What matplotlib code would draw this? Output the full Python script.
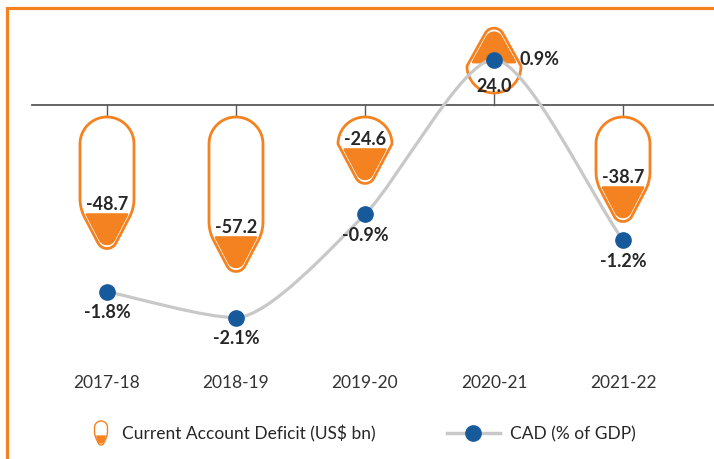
import numpy as np
import matplotlib
matplotlib.use('Agg')
import matplotlib.pyplot as plt
from matplotlib.path import Path
from matplotlib.patches import PathPatch, Rectangle, Polygon
from matplotlib.transforms import IdentityTransform
from matplotlib.lines import Line2D

plt.rcParams['font.family'] = ['Lato', 'DejaVu Sans']

# ---------------- data ----------------
categories = ['2017-18', '2018-19', '2019-20', '2020-21', '2021-22']
cad_bn = [-48.7, -57.2, -24.6, 24.0, -38.7]          # Current Account Deficit (US$ bn)
cad_pct = [-1.8, -2.1, -0.9, 0.9, -1.2]              # CAD (% of GDP)
bar_labels = ['-48.7', '-57.2', '-24.6', '24.0', '-38.7']
pct_labels = ['-1.8%', '-2.1%', '-0.9%', '0.9%', '-1.2%']
legend_labels = ['Current Account Deficit (US$ bn)', 'CAD (% of GDP)']

# ---------------- style ----------------
ORANGE = '#F58220'
BLUE = '#175A9C'
GREY_LINE = '#C8C8C8'
AXIS = '#595959'
TEXT = '#262626'

FW, FH = 714, 460
fig = plt.figure(figsize=(FW / 100, FH / 100), dpi=100)
fig.patch.set_facecolor('white')
ax = fig.add_axes([0, 0, 1, 1])
ax.set_xlim(-107 / 129, (FW - 107) / 129)
ax.set_ylim(-354 / 2.7, 106 / 2.7)
ax.axis('off')
ax2 = ax.twinx()
ax2.set_ylim((138 - 460) / 86, 138 / 86)
ax2.axis('off')

IDT = IdentityTransform()


def drop_side(R, ds, Hd, rt, c=10, n=30):
    """Right half outline of the drop shape: (u, d) with d from 0 (round end) to Hd (tip)."""
    th = np.linspace(np.pi / 2, 0, n)
    u1 = R * np.cos(th)
    d1 = R - R * np.sin(th)
    cx, cd = 0.0, Hd - rt
    vx, vd = R - cx, ds - cd
    L = np.hypot(vx, vd)
    alpha = np.arctan2(vd, vx)
    beta = alpha + np.arccos(min(rt / L, 1.0))
    tx, td = cx + rt * np.cos(beta), cd + rt * np.sin(beta)
    c = min(c, ds - R if ds > R else 0.0, 0.45 * np.hypot(tx - R, td - ds))
    dirx, dird = (tx - R), (td - ds)
    nrm = np.hypot(dirx, dird)
    ax_, ad_ = R + dirx / nrm * c, ds + dird / nrm * c
    t = np.linspace(0, 1, n)
    qx = (1 - t) ** 2 * R + 2 * (1 - t) * t * R + t ** 2 * ax_
    qd = (1 - t) ** 2 * (ds - c) + 2 * (1 - t) * t * ds + t ** 2 * ad_
    ph = np.linspace(beta, np.pi / 2, n)
    arx = cx + rt * np.cos(ph)
    ard = cd + rt * np.sin(ph)
    u = np.concatenate([u1, [R], qx, [tx], arx])
    d = np.concatenate([d1, [R], qd, [td], ard])
    return u, d


def add(target, artist):
    if target is fig:
        fig.add_artist(artist)
    else:
        target.add_patch(artist)


def draw_drop(target, xc, y0, direction, length, width, taper, rt, inset, fill_len, lw, z=2):
    R = width / 2.0
    T = min(taper, length - R)
    ds = length - T
    u, d = drop_side(R, ds, length, rt)
    uu = np.concatenate([u, -u[::-1]])
    dd = np.concatenate([d, d[::-1]])
    xy = np.column_stack([xc + uu, y0 + direction * dd])
    add(target, Polygon(xy, closed=True, facecolor='white', edgecolor=ORANGE,
                        linewidth=lw, joinstyle='round', transform=IDT, zorder=z))
    Ri = R - inset
    Hi = length - inset
    ui, di = drop_side(Ri, ds + 0.3 * inset, Hi, max(rt - 0.5 * inset, 3), c=6)
    dcut = length - fill_len
    k = np.argmax(di >= Ri)
    ucut = np.interp(dcut, di[k:], ui[k:])
    mask = di > dcut
    ur = np.concatenate([[ucut], ui[mask]])
    dr = np.concatenate([[dcut], di[mask]])
    uf = np.concatenate([ur, -ur[::-1]])
    df = np.concatenate([dr, dr[::-1]])
    xyf = np.column_stack([xc + uf, y0 + direction * df])
    add(target, Polygon(xyf, closed=True, facecolor=ORANGE, edgecolor=ORANGE,
                        linewidth=lw * 0.9, joinstyle='round', transform=IDT, zorder=z + 0.1))
    return dcut


# ---------------- axis line and ticks ----------------
y_axis = ax.transData.transform((0, 0))[1]
ax.add_line(Line2D([32, FW], [y_axis, y_axis], color=AXIS, lw=1.3, transform=IDT, zorder=1))

GAP = 12
for i, v in enumerate(cad_bn):
    xc = ax.transData.transform((i, 0))[0]
    yv = ax.transData.transform((i, v))[1]
    direction = 1 if v > 0 else -1
    length = abs(yv - y_axis)
    ax.add_line(Line2D([xc, xc], [y_axis, y_axis + direction * GAP], color=AXIS,
                       lw=1.0, transform=IDT, zorder=1))
    y0 = y_axis + direction * GAP
    dcut = draw_drop(ax, xc, y0, direction, length, 54, 40, 10, 4.5, 34, 2.0, z=2)
    off = 11 if direction < 0 else 23
    ty = y0 + direction * (dcut - off)
    ax.text(xc, ty, bar_labels[i], transform=IDT, ha='center', va='center',
            fontsize=13, fontweight='bold', color=TEXT, zorder=8)

# ---------------- smoothed line ----------------
pts = ax2.transData.transform(np.column_stack([np.arange(len(cad_pct)), cad_pct]))
n = len(pts)
m = np.zeros_like(pts)
for i in range(n):
    if i == 0:
        m[i] = pts[1] - pts[0]
    elif i == n - 1:
        m[i] = pts[-1] - pts[-2]
    else:
        m[i] = (pts[i + 1] - pts[i - 1]) / 2
        if (pts[i][1] - pts[i - 1][1]) * (pts[i + 1][1] - pts[i][1]) <= 0:
            m[i][1] = 0
SMOOTH = 0.75
verts = [pts[0]]
codes = [Path.MOVETO]
for i in range(n - 1):
    verts += [pts[i] + SMOOTH * m[i] / 3, pts[i + 1] - SMOOTH * m[i + 1] / 3, pts[i + 1]]
    codes += [Path.CURVE4] * 3
ax2.add_patch(PathPatch(Path(verts, codes), facecolor='none', edgecolor=GREY_LINE,
                        lw=2.3, transform=IDT, zorder=4))
ax2.plot(np.arange(n), cad_pct, linestyle='none', marker='o', ms=11,
         color=BLUE, mec=BLUE, zorder=6)
for i, (v, lab) in enumerate(zip(cad_pct, pct_labels)):
    px, py = pts[i]
    if v >= 0:
        ax2.text(px + 26, py + 1, lab, transform=IDT, ha='left', va='center',
                 fontsize=13, fontweight='bold', color=TEXT, zorder=8)
    else:
        ax2.text(px, py - 20, lab, transform=IDT, ha='center', va='center',
                 fontsize=13, fontweight='bold', color=TEXT, zorder=8)

# ---------------- category labels ----------------
for i, c in enumerate(categories):
    ax.text(i, (FH - 383) / FH, c, transform=ax.get_xaxis_transform(), ha='center',
            va='center', fontsize=12.5, color='#333333')

# ---------------- legend ----------------
ly = FH - 434
draw_drop(fig, 101, ly + 12, -1, 24, 13, 10, 3, 2.0, 9, 1.0, z=2)
fig.text(122 / FW, ly / FH, legend_labels[0], ha='left', va='center',
         fontsize=12.5, color=TEXT)
fig.add_artist(Line2D([447, 500], [ly, ly], color=GREY_LINE, lw=2.5, transform=IDT))
fig.add_artist(Line2D([473], [ly], marker='o', ms=11, color=BLUE, linestyle='none',
                      transform=IDT))
fig.text(510 / FW, ly / FH, legend_labels[1], ha='left', va='center',
         fontsize=12.5, color=TEXT)

# ---------------- frame ----------------
fig.add_artist(Rectangle((7 / FW, -0.1), 1.2, (FH - 9) / FH + 0.1, transform=fig.transFigure,
                         fill=False, edgecolor=ORANGE, lw=2.3, clip_on=False))

fig.savefig('out.png', dpi=100)
